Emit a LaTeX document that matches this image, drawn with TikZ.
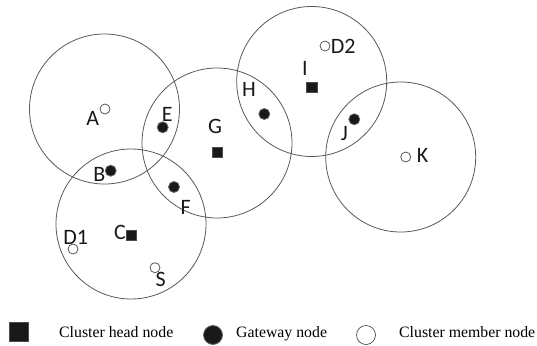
\documentclass[tikz,border=0pt]{standalone}
\usepackage{fontspec}
\setmainfont{Liberation Serif}
\newfontfamily\labfont{Carlito}
\begin{document}
\begin{tikzpicture}[x=1pt,y=-1pt,
  cluster/.style={draw=black!65,line width=0.8pt,circle,minimum size=150pt,inner sep=0pt,outer sep=0pt},
  headnode/.style={rectangle,fill=black!90,draw=black!70,line width=0.4pt,minimum size=10.5pt,inner sep=0pt},
  gatenode/.style={circle,fill=black!90,draw=black!60,line width=0.8pt,minimum size=11pt,inner sep=0pt},
  membernode/.style={circle,fill=white,draw=black!65,line width=0.8pt,minimum size=10pt,inner sep=0pt},
  lbl/.style={anchor=base,inner sep=0pt,font=\labfont\fontsize{22}{24}\selectfont,text=black!90},
  legtext/.style={anchor=base west,inner sep=0pt,font=\fontsize{15.8}{18}\selectfont}]
\useasboundingbox (0,0) rectangle (537,345);
% cluster ranges
\node[cluster] (cA) at (104.5,109) {};
\node[cluster] (cG) at (217,143) {};
\node[cluster] (cC) at (131,224) {};
\node[cluster] (cI) at (311.7,81.5) {};
\node[cluster] (cK) at (400.7,157) {};
% nodes
\node[membernode] (A) at (105,109) {};
\node[gatenode] (E) at (162.7,127.3) {};
\node[gatenode] (B) at (110.7,170.7) {};
\node[headnode] (G) at (217,152) {};
\node[gatenode] (F) at (174,187) {};
\node[headnode] (C) at (131,235) {};
\node[membernode] (D1) at (73,249) {};
\node[membernode] (S) at (155,267.7) {};
\node[gatenode] (H) at (264.3,114) {};
\node[headnode] (I) at (311.7,87.3) {};
\node[membernode] (D2) at (325,46) {};
\node[gatenode] (J) at (354.3,119.3) {};
\node[membernode] (K) at (405.7,157) {};
% labels
\node[lbl] (lA) at (92.7,125) {A};
\node[lbl] (lE) at (167.3,121.7) {E};
\node[lbl] (lB) at (99.3,181.7) {B};
\node[lbl] (lG) at (215,133.3) {G};
\node[lbl] (lF) at (185.7,214) {F};
\node[lbl] (lC) at (120,239.3) {C};
\node[lbl] (lD1) at (75.7,244) {D1};
\node[lbl] (lS) at (160.7,286.7) {S};
\node[lbl] (lH) at (249,96.7) {H};
\node[lbl] (lI) at (305,75) {I};
\node[lbl] (lD2) at (343.3,53.3) {D2};
\node[lbl] (lJ) at (344.3,140) {J};
\node[lbl] (lK) at (422.7,162.7) {K};
% legend
\node[headnode,minimum size=19pt] (kH) at (18.8,331.7) {};
\node[legtext] (tH) at (59,337.5) {Cluster head node};
\node[gatenode,minimum size=19pt] (kG) at (213,335) {};
\node[legtext] (tG) at (236,337.5) {Gateway node};
\node[membernode,minimum size=19pt,draw=black!80,line width=0.6pt] (kM) at (366,335) {};
\node[legtext] (tM) at (399,337.5) {Cluster member node};
\end{tikzpicture}
\end{document}
